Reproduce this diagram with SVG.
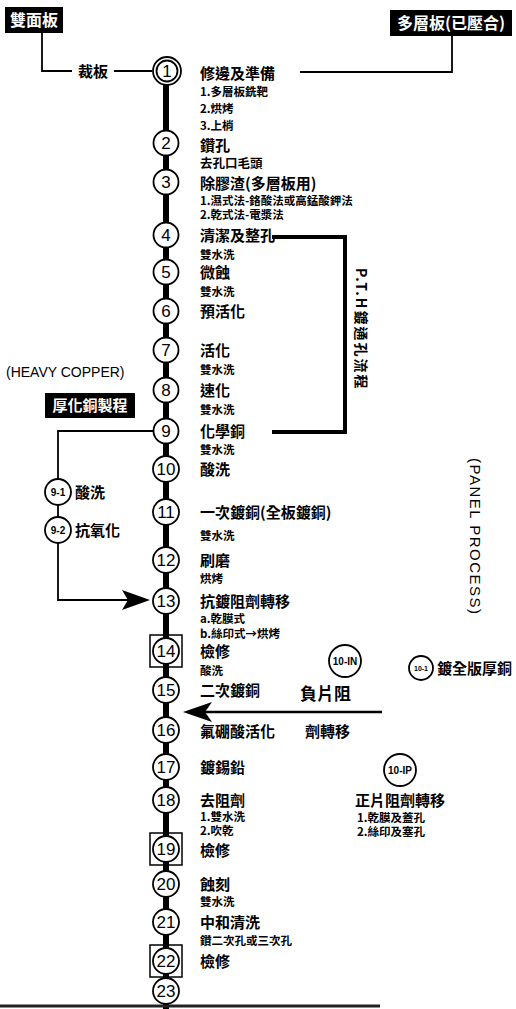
<svg xmlns="http://www.w3.org/2000/svg" width="516" height="1009" viewBox="0 0 516 1009">
<style>
.bg{fill:#fff}
.c{fill:#fff;stroke:#000;stroke-width:1.8}
.bx{fill:none;stroke:#000;stroke-width:1.5}
.n{font-family:"Liberation Sans","Noto Sans",sans-serif;font-size:17px;text-anchor:middle;fill:#000}
.ns{font-family:"Liberation Sans","Noto Sans",sans-serif;font-size:10px;font-weight:bold;text-anchor:middle;fill:#000}
.t{font-family:"Noto Sans CJK TC","Noto Sans CJK SC",sans-serif;font-size:15px;font-weight:bold;fill:#000}
.s{font-family:"Noto Sans CJK TC","Noto Sans CJK SC",sans-serif;font-size:11.5px;font-weight:bold;fill:#000}
.w{font-family:"Noto Sans CJK TC","Noto Sans CJK SC",sans-serif;font-size:16px;font-weight:bold;fill:#fff}
.e{font-family:"Liberation Sans","Noto Sans",sans-serif;font-size:14px;fill:#000}
.ln{fill:none;stroke:#000;stroke-width:1.8}
.th{fill:none;stroke:#000;stroke-width:4}
</style>
<rect class="bg" x="0" y="0" width="516" height="1009"/>

<g id="connectors">
<line x1="166" y1="80" x2="166" y2="1009" stroke="#000" stroke-width="6"/>
<path class="ln" d="M42,33 V71 H72"/>
<line class="ln" x1="114" y1="71" x2="152" y2="71"/>
<path class="ln" d="M300,72 H452 V36"/>
<path class="th" d="M272,237 H345 V432 H272"/>
<path class="ln" d="M154,431 H58 V600 H130"/>
<polygon points="150,600 122,590 128,600 122,610" fill="#000"/>
<line x1="382" y1="712" x2="200" y2="712" stroke="#000" stroke-width="2.5"/>
<polygon points="183,712 212,702 205,712 212,722" fill="#000"/>
<line x1="0" y1="1006" x2="380" y2="1006" stroke="#222" stroke-width="3"/>
</g>

<g id="src-double">
<rect x="5" y="7" width="58" height="26" fill="#000"/>
<text class="w" x="34" y="26" text-anchor="middle">雙面板</text>
</g>
<g id="src-multi">
<rect x="390" y="10" width="122" height="26" fill="#000"/>
<text class="w" x="451" y="29" text-anchor="middle">多層板(已壓合)</text>
</g>
<g id="cut"><text class="t" x="78" y="77">裁板</text></g>

<g id="n1">
<circle class="c" cx="167" cy="71" r="14"/><circle class="c" cx="167" cy="71" r="10.5"/>
<text class="n" x="167" y="77">1</text>
<text class="t" x="200" y="79">修邊及準備</text>
<text class="s" x="200" y="96">1.多層板銑靶</text>
<text class="s" x="200" y="113">2.烘烤</text>
<text class="s" x="200" y="130">3.上梢</text>
</g>
<g id="n2">
<circle class="c" cx="166" cy="143" r="12.5"/><text class="n" x="166" y="149">2</text>
<text class="t" x="200" y="151">鑽孔</text>
<text class="s" x="200" y="168" style="font-size:12.5px">去孔口毛頭</text>
</g>
<g id="n3">
<circle class="c" cx="166" cy="182" r="12.5"/><text class="n" x="166" y="188">3</text>
<text class="t" x="200" y="189">除膠渣(多層板用)</text>
<text class="s" x="200" y="205">1.濕式法-鉻酸法或高錳酸鉀法</text>
<text class="s" x="200" y="219">2.乾式法-電漿法</text>
</g>
<g id="n4">
<circle class="c" cx="166" cy="235" r="12.5"/><text class="n" x="166" y="241">4</text>
<text class="t" x="200" y="241">清潔及整孔</text>
<text class="s" x="200" y="259">雙水洗</text>
</g>
<g id="n5">
<circle class="c" cx="166" cy="272" r="12.5"/><text class="n" x="166" y="278">5</text>
<text class="t" x="200" y="278">微蝕</text>
<text class="s" x="200" y="296">雙水洗</text>
</g>
<g id="n6">
<circle class="c" cx="166" cy="311" r="12.5"/><text class="n" x="166" y="317">6</text>
<text class="t" x="200" y="317">預活化</text>
</g>
<g id="n7">
<circle class="c" cx="166" cy="350" r="12.5"/><text class="n" x="166" y="356">7</text>
<text class="t" x="200" y="356">活化</text>
<text class="s" x="200" y="374">雙水洗</text>
</g>
<g id="n8">
<circle class="c" cx="166" cy="390" r="12.5"/><text class="n" x="166" y="396">8</text>
<text class="t" x="200" y="396">速化</text>
<text class="s" x="200" y="414">雙水洗</text>
</g>
<g id="n9">
<circle class="c" cx="166" cy="431" r="12.5"/><text class="n" x="166" y="437">9</text>
<text class="t" x="200" y="437">化學銅</text>
<text class="s" x="200" y="454">雙水洗</text>
</g>
<g id="n10">
<circle class="c" cx="166" cy="469" r="13"/><text class="n" x="166" y="475">10</text>
<text class="t" x="200" y="475">酸洗</text>
</g>
<g id="n11">
<circle class="c" cx="166" cy="512" r="13"/><text class="n" x="166" y="518">11</text>
<text class="t" x="200" y="518">一次鍍銅(全板鍍銅)</text>
<text class="s" x="200" y="540">雙水洗</text>
</g>
<g id="n12">
<circle class="c" cx="166" cy="560" r="13"/><text class="n" x="166" y="566">12</text>
<text class="t" x="200" y="566">刷磨</text>
<text class="s" x="200" y="583">烘烤</text>
</g>
<g id="n13">
<circle class="c" cx="166" cy="601" r="13"/><text class="n" x="166" y="607">13</text>
<text class="t" x="200" y="607">抗鍍阻劑轉移</text>
<text class="s" x="200" y="623">a.乾膜式</text>
<text class="s" x="200" y="638">b.絲印式→烘烤</text>
</g>
<g id="n14">
<rect class="bx" x="150" y="635" width="32" height="32"/>
<circle class="c" cx="166" cy="651" r="13"/><text class="n" x="166" y="657">14</text>
<text class="t" x="200" y="657">檢修</text>
<text class="s" x="200" y="675">酸洗</text>
</g>
<g id="n15">
<circle class="c" cx="166" cy="690" r="13"/><text class="n" x="166" y="696">15</text>
<text class="t" x="200" y="696">二次鍍銅</text>
</g>
<g id="n16">
<circle class="c" cx="166" cy="730" r="13"/><text class="n" x="166" y="736">16</text>
<text class="t" x="200" y="737">氟硼酸活化</text>
</g>
<g id="n17">
<circle class="c" cx="166" cy="767" r="13"/><text class="n" x="166" y="773">17</text>
<text class="t" x="200" y="773">鍍錫鉛</text>
</g>
<g id="n18">
<circle class="c" cx="166" cy="800" r="13"/><text class="n" x="166" y="806">18</text>
<text class="t" x="200" y="806">去阻劑</text>
<text class="s" x="200" y="821">1.雙水洗</text>
<text class="s" x="200" y="835">2.吹乾</text>
</g>
<g id="n19">
<rect class="bx" x="150" y="833" width="32" height="32"/>
<circle class="c" cx="166" cy="849" r="13"/><text class="n" x="166" y="855">19</text>
<text class="t" x="200" y="856">檢修</text>
</g>
<g id="n20">
<circle class="c" cx="166" cy="884" r="13"/><text class="n" x="166" y="890">20</text>
<text class="t" x="200" y="890">蝕刻</text>
<text class="s" x="200" y="906">雙水洗</text>
</g>
<g id="n21">
<circle class="c" cx="166" cy="922" r="13"/><text class="n" x="166" y="928">21</text>
<text class="t" x="200" y="928">中和清洗</text>
<text class="s" x="200" y="945">鑽二次孔或三次孔</text>
</g>
<g id="n22">
<rect class="bx" x="150" y="945" width="32" height="32"/>
<circle class="c" cx="166" cy="961" r="13"/><text class="n" x="166" y="967">22</text>
<text class="t" x="200" y="967">檢修</text>
</g>
<g id="n23">
<circle class="c" cx="166" cy="991" r="13"/><text class="n" x="166" y="997">23</text>
</g>

<g id="pth-label">
<text class="t" x="356" y="268" transform="rotate(90 356 268)" style="font-size:14px;letter-spacing:2px">P.T.H鍍通孔流程</text>
</g>
<g id="heavy">
<text class="e" x="6" y="377">(HEAVY COPPER)</text>
<rect x="45" y="393" width="90" height="25" fill="#000"/>
<text class="w" x="90" y="411" text-anchor="middle" style="font-size:15px">厚化銅製程</text>
</g>
<g id="n9-1">
<circle class="c" cx="58" cy="492" r="13"/><text class="ns" x="58" y="496">9-1</text>
<text class="t" x="75" y="498">酸洗</text>
</g>
<g id="n9-2">
<circle class="c" cx="58" cy="530" r="13"/><text class="ns" x="58" y="534">9-2</text>
<text class="t" x="75" y="536">抗氧化</text>
</g>
<g id="panel">
<text class="e" x="470" y="458" transform="rotate(90 470 458)" style="font-size:15px;letter-spacing:1.5px">(PANEL PROCESS)</text>
</g>
<g id="n10-IN">
<circle class="c" cx="345" cy="661" r="16"/><text class="ns" x="345" y="665">10-IN</text>
</g>
<g id="n10-1">
<circle class="c" cx="421" cy="668" r="12"/><text class="ns" x="421" y="671" style="font-size:7px">10-1</text>
<text class="t" x="437" y="674">鍍全版厚銅</text>
</g>
<g id="neg">
<text class="t" x="300" y="700" style="font-size:17px">負片阻</text>
<text class="t" x="305" y="737">劑轉移</text>
</g>
<g id="n10-IP">
<circle class="c" cx="400" cy="770" r="16"/><text class="ns" x="400" y="774">10-IP</text>
<text class="t" x="355" y="806">正片阻劑轉移</text>
<text class="s" x="357" y="822">1.乾膜及蓋孔</text>
<text class="s" x="357" y="836">2.絲印及塞孔</text>
</g>
</svg>
